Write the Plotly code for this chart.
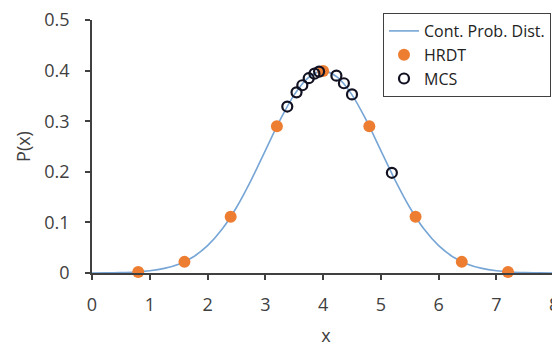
import plotly.graph_objects as go

# Continuous probability distribution
curve_x = [0.0, 0.25, 0.5, 0.75, 1.0, 1.25, 1.5, 1.75, 2.0, 2.25, 2.5, 2.75, 3.0, 3.25, 3.5, 3.75,
           4.0, 4.25, 4.5, 4.75, 5.0, 5.25, 5.5, 5.75, 6.0, 6.25, 6.5, 6.75, 7.0, 7.25, 7.5, 7.75, 8.0]
curve_y = [0.0001, 0.0004, 0.0009, 0.0020, 0.0044, 0.0091, 0.0175, 0.0317, 0.0540, 0.0863, 0.1295,
           0.1826, 0.2420, 0.3011, 0.3521, 0.3867, 0.3989, 0.3867, 0.3521, 0.3011, 0.2420, 0.1826,
           0.1295, 0.0863, 0.0540, 0.0317, 0.0175, 0.0091, 0.0044, 0.0020, 0.0009, 0.0004, 0.0001]

# HRDT points
hrdt_x = [0.8, 1.6, 2.4, 3.2, 4.0, 4.8, 5.6, 6.4, 7.2]
hrdt_y = [0.002, 0.022, 0.111, 0.290, 0.399, 0.290, 0.111, 0.022, 0.002]

# MCS points
mcs_x = [3.38, 3.54, 3.64, 3.75, 3.85, 3.93, 4.23, 4.36, 4.50, 5.19]
mcs_y = [0.329, 0.357, 0.371, 0.385, 0.394, 0.398, 0.390, 0.375, 0.353, 0.198]

x_ticks = [0, 1, 2, 3, 4, 5, 6, 7, 8]
y_ticks = [0, 0.1, 0.2, 0.3, 0.4, 0.5]
y_tick_text = ["0", "0.1", "0.2", "0.3", "0.4", "0.5"]

fig = go.Figure()
fig.add_trace(go.Scatter(x=curve_x, y=curve_y, mode="lines", name="Cont. Prob. Dist.",
                         line=dict(color="#76a5d6", width=1.6, shape="spline"), cliponaxis=False))
fig.add_trace(go.Scatter(x=hrdt_x, y=hrdt_y, mode="markers", name="HRDT",
                         marker=dict(color="#ed7d31", size=12, line=dict(width=0)), cliponaxis=False))
fig.add_trace(go.Scatter(x=mcs_x, y=mcs_y, mode="markers", name="MCS",
                         marker=dict(color="rgba(0,0,0,0)", size=10,
                                     line=dict(color="#111122", width=2.2)), cliponaxis=False))

family = "Open Sans, Noto Sans, sans-serif"
txt = "#404040"
tick_font = dict(family=family, size=18, color=txt)
# page body has an 8px margin, so the figure is sized to fill the rest of the 560x347 window
W, H = 552, 339
L, R, T, B = 84, 0, 12, 74
fig.update_layout(
    width=W, height=H,
    margin=dict(l=L, r=R, t=T, b=B),
    paper_bgcolor="white", plot_bgcolor="white",
    font=dict(family=family, size=18, color=txt),
    showlegend=True,
    legend=dict(x=(375 - L) / (W - L - R), y=1 + 7 / (H - T - B), xanchor="left", yanchor="top",
                bordercolor=txt, borderwidth=1, bgcolor="white",
                font=dict(family=family, size=16, color="#222222"),
                tracegroupgap=0, itemwidth=30),
)
fig.update_xaxes(range=[0, 8.1], tickmode="array", tickvals=x_ticks, automargin=False,
                 showgrid=False, zeroline=False, showline=True, linecolor=txt, linewidth=1.5,
                 ticks="outside", ticklen=5, tickcolor=txt, tickwidth=1.5,
                 ticklabelstandoff=10, ticklabeloverflow="allow",
                 title=dict(text="x", standoff=14, font=dict(family=family, size=18, color=txt)),
                 tickfont=tick_font)
fig.update_yaxes(range=[0, 0.5], tickmode="array", tickvals=y_ticks, ticktext=y_tick_text,
                 automargin=False,
                 showgrid=False, zeroline=False, showline=True, linecolor=txt, linewidth=1.5,
                 ticks="outside", ticklen=5, tickcolor=txt, tickwidth=1.5,
                 ticklabelstandoff=12, ticklabeloverflow="allow",
                 title=dict(text="P(x)", standoff=9, font=dict(family=family, size=18, color=txt)),
                 tickfont=tick_font)

fig.write_html("out.html")
